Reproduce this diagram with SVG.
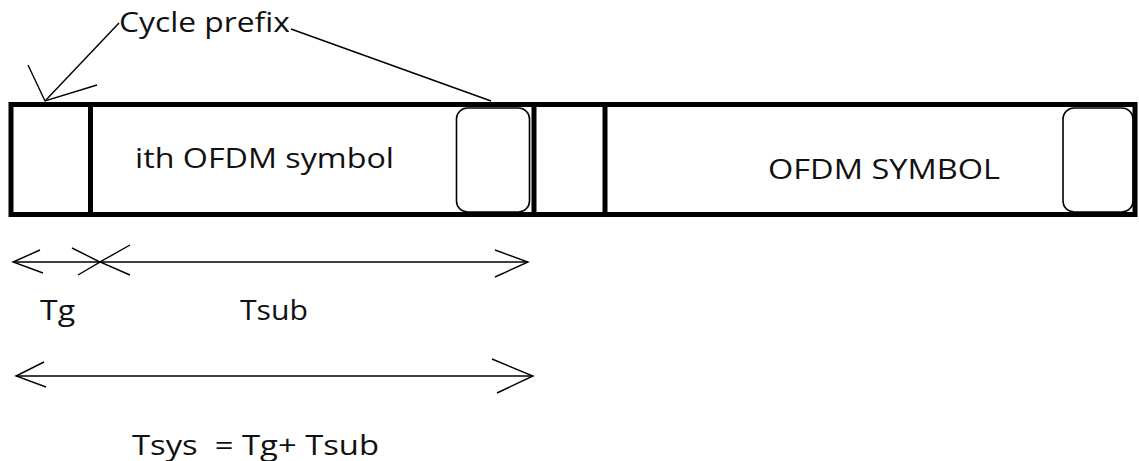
<svg xmlns="http://www.w3.org/2000/svg" width="1139" height="461" viewBox="0 0 1139 461">
  <style>
    .frame { fill: none; stroke: #000; stroke-width: 5; }
    .cp { fill: none; stroke: #000; stroke-width: 1.6; }
    .thin { fill: none; stroke: #000; stroke-width: 1.4; }
    .lbl { font-family: "Open Sans", "Noto Sans", sans-serif; font-size: 27px; fill: #111; }
  </style>
  <rect width="1139" height="461" fill="#fff"/>

  <!-- symbol frame -->
  <g id="frame">
    <rect class="frame" x="11" y="104.5" width="1124" height="110"/>
  </g>

  <!-- first guard interval -->
  <g id="guard1">
    <line class="frame" x1="90.5" y1="104.5" x2="90.5" y2="214.5"/>
  </g>

  <!-- ith OFDM symbol -->
  <g id="symbol1">
    <text class="lbl" x="135" y="168" textLength="259" lengthAdjust="spacingAndGlyphs">ith OFDM symbol</text>
    <rect class="cp" x="456.5" y="108" width="73" height="104" rx="11"/>
    <line class="frame" x1="534" y1="104.5" x2="534" y2="214.5"/>
  </g>

  <!-- second guard interval -->
  <g id="guard2">
    <line class="frame" x1="605" y1="104.5" x2="605" y2="214.5"/>
  </g>

  <!-- next OFDM symbol -->
  <g id="symbol2">
    <text class="lbl" x="768" y="179" textLength="232" lengthAdjust="spacingAndGlyphs">OFDM SYMBOL</text>
    <rect class="cp" x="1063" y="108" width="70" height="104" rx="11"/>
  </g>

  <!-- cycle prefix callout -->
  <g id="callout">
    <text class="lbl" x="119" y="32" textLength="171" lengthAdjust="spacingAndGlyphs">Cycle prefix</text>
  </g>

  <!-- connectors and dimension arrows -->
  <g id="connectors">
    <polyline class="thin" points="119,23 45,101"/>
    <polyline class="thin" points="28,65 45,101 97,85"/>
    <polyline class="thin" points="291,29 491,101"/>

    <!-- Tg -->
    <line class="thin" x1="13" y1="262" x2="100" y2="262"/>
    <polyline class="thin" points="40,250 13,262 43,273"/>
    <polyline class="thin" points="72,248 100,262 78,275"/>
    <!-- Tsub -->
    <line class="thin" x1="100" y1="262" x2="528" y2="262"/>
    <polyline class="thin" points="130,245 100,262 130,275"/>
    <polyline class="thin" points="495,250 528,262 495,277"/>
    <!-- Tsys -->
    <line class="thin" x1="16" y1="376" x2="533" y2="376"/>
    <polyline class="thin" points="44,362 16,376 46,387"/>
    <polyline class="thin" points="492,359 533,376 497,393"/>
  </g>

  <g id="labels">
    <text class="lbl" x="40" y="320" textLength="35" lengthAdjust="spacingAndGlyphs">Tg</text>
    <text class="lbl" x="240" y="320" textLength="68" lengthAdjust="spacingAndGlyphs">Tsub</text>
    <text class="lbl" x="132" y="455" textLength="247" lengthAdjust="spacingAndGlyphs" xml:space="preserve">Tsys  = Tg+ Tsub</text>
  </g>
</svg>
